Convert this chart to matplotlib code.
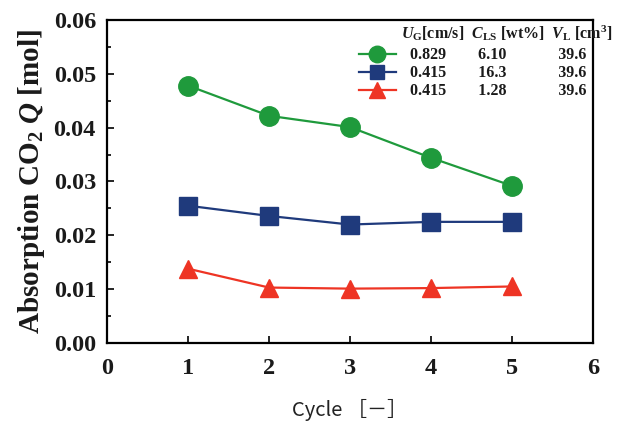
import matplotlib
matplotlib.use('Agg')
import matplotlib.pyplot as plt
from matplotlib.ticker import MultipleLocator

# 数据
cycles = [1, 2, 3, 4, 5]
q_green = [0.0478, 0.0422, 0.0401, 0.0344, 0.0292]
q_blue = [0.0255, 0.0236, 0.0220, 0.0225, 0.0225]
q_red = [0.0138, 0.0103, 0.0101, 0.0102, 0.0105]

ug = ['0.829', '0.415', '0.415']
cls = ['6.10', '16.3', '1.28']
vl = ['39.6', '39.6', '39.6']

plt.rcParams['font.family'] = ['Liberation Serif', 'DejaVu Serif']
plt.rcParams['mathtext.fontset'] = 'custom'
plt.rcParams['mathtext.rm'] = 'Liberation Serif:bold'
plt.rcParams['mathtext.it'] = 'Liberation Serif:bold:italic'
plt.rcParams['mathtext.bf'] = 'Liberation Serif:bold'

fig = plt.figure(figsize=(6.3, 4.24), dpi=100)
ax = fig.add_axes([0.170, 0.191, 0.771, 0.762])

labels = [f'{a}        {b}             {c}' for a, b, c in zip(ug, cls, vl)]
ax.plot(cycles, q_green, '-o', color='#1f9a3c', lw=1.6, ms=14, label=labels[0])
ax.plot(cycles, q_blue, '-s', color='#1f3a7c', lw=1.6, ms=12.5, label=labels[1])
ax.plot(cycles, q_red, '-^', color='#ee3424', lw=1.6, ms=13.5, label=labels[2])

ax.set_xlim(0, 6)
ax.set_ylim(0, 0.06)
ax.xaxis.set_major_locator(MultipleLocator(1))
ax.yaxis.set_major_locator(MultipleLocator(0.01))
ax.yaxis.set_minor_locator(MultipleLocator(0.005))
ax.yaxis.set_major_formatter(plt.FormatStrFormatter('%.2f'))
ax.tick_params(direction='in', length=5, width=1.2, labelsize=17.5, labelcolor='#1a1a1a')
ax.tick_params(axis='x', pad=11)
ax.tick_params(axis='y', pad=8)
ax.tick_params(which='minor', direction='in', length=3, width=1.2)
for t in ax.get_xticklabels() + ax.get_yticklabels():
    t.set_fontweight('bold')
for s in ax.spines.values():
    s.set_linewidth(1.6)

ax.set_ylabel(r'Absorption CO$_2$ $Q$ [mol]', fontsize=21, fontweight='bold',
              color='#1a1a1a', labelpad=5)
ax.set_xlabel('Cycle ［－］', fontsize=14.5, family=['Noto Sans CJK SC', 'DejaVu Sans'],
              color='#222222', labelpad=14)

leg = ax.legend(loc='upper right', bbox_to_anchor=(1.0, 0.935), frameon=False,
                prop={'weight': 'bold', 'size': 11.5}, handlelength=2.3, markerscale=0.85,
                labelspacing=0.13, handletextpad=0.9, borderaxespad=0)
for t in leg.get_texts():
    t.set_color('#1a1a1a')
ax.text(0.605, 0.96, r'$U_{\mathrm{G}}$[cm/s]  $C_{\mathrm{LS}}$ [wt%]  $V_{\mathrm{L}}$ [cm$^3$]',
        transform=ax.transAxes, fontsize=11.5, fontweight='bold', va='center',
        color='#1a1a1a')

fig.savefig('out.png', dpi=100)
